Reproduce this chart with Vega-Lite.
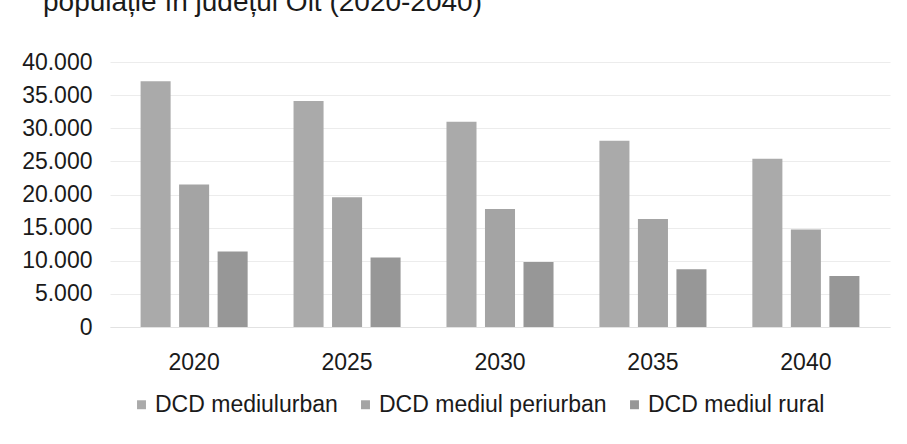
{
  "$schema": "https://vega.github.io/schema/vega-lite/v6.json",
  "width": 780,
  "height": 265,
  "autosize": {"type": "none"},
  "padding": {"left": 110, "top": 62, "right": 17, "bottom": 117},
  "background": "white",
  "title": {
    "text": "populație în județul Olt (2020-2040)",
    "anchor": "start",
    "frame": "group",
    "baseline": "alphabetic",
    "offset": 12,
    "dx": -67,
    "fontSize": 28,
    "fontWeight": "normal",
    "color": "#1a1a1a"
  },
  "data": {
    "values": [
      {"an": "2020", "serie": "DCD mediulurban", "valoare": 37100},
      {"an": "2020", "serie": "DCD mediul periurban", "valoare": 21500},
      {"an": "2020", "serie": "DCD mediul rural", "valoare": 11400},
      {"an": "2025", "serie": "DCD mediulurban", "valoare": 34100},
      {"an": "2025", "serie": "DCD mediul periurban", "valoare": 19600},
      {"an": "2025", "serie": "DCD mediul rural", "valoare": 10500},
      {"an": "2030", "serie": "DCD mediulurban", "valoare": 31000},
      {"an": "2030", "serie": "DCD mediul periurban", "valoare": 17800},
      {"an": "2030", "serie": "DCD mediul rural", "valoare": 9800},
      {"an": "2035", "serie": "DCD mediulurban", "valoare": 28100},
      {"an": "2035", "serie": "DCD mediul periurban", "valoare": 16300},
      {"an": "2035", "serie": "DCD mediul rural", "valoare": 8700},
      {"an": "2040", "serie": "DCD mediulurban", "valoare": 25400},
      {"an": "2040", "serie": "DCD mediul periurban", "valoare": 14700},
      {"an": "2040", "serie": "DCD mediul rural", "valoare": 7700}
    ]
  },
  "mark": {"type": "bar"},
  "encoding": {
    "x": {
      "field": "an",
      "type": "nominal",
      "scale": {"paddingInner": 0.3, "paddingOuter": 0.2},
      "axis": {
        "title": null,
        "labelAngle": 0,
        "ticks": false,
        "domain": true,
        "domainColor": "#e2e2e2",
        "labelPadding": 24,
        "labelFontSize": 23,
        "labelColor": "#1a1a1a"
      }
    },
    "xOffset": {
      "field": "serie",
      "type": "nominal",
      "sort": ["DCD mediulurban", "DCD mediul periurban", "DCD mediul rural"],
      "scale": {"paddingInner": 0.22}
    },
    "y": {
      "field": "valoare",
      "type": "quantitative",
      "scale": {"domain": [0, 40000]},
      "axis": {
        "title": null,
        "values": [0, 5000, 10000, 15000, 20000, 25000, 30000, 35000, 40000],
        "labelExpr": "replace(format(datum.value, ','), ',', '.')",
        "ticks": false,
        "domain": false,
        "gridColor": "#ececec",
        "labelPadding": 18,
        "labelFontSize": 23,
        "labelColor": "#1a1a1a"
      }
    },
    "color": {
      "field": "serie",
      "type": "nominal",
      "sort": ["DCD mediulurban", "DCD mediul periurban", "DCD mediul rural"],
      "scale": {
        "domain": ["DCD mediulurban", "DCD mediul periurban", "DCD mediul rural"],
        "range": ["#aaaaaa", "#a4a4a4", "#979797"]
      },
      "legend": {
        "title": null,
        "orient": "none",
        "legendX": 20,
        "legendY": 331,
        "direction": "horizontal",
        "symbolType": "square",
        "symbolSize": 80,
        "symbolStrokeWidth": 0,
        "labelFontSize": 23,
        "labelLimit": 0,
        "labelColor": "#1a1a1a",
        "labelOffset": 2,
        "columnPadding": 16
      }
    }
  },
  "config": {"view": {"stroke": null}, "font": "Liberation Sans"}
}
